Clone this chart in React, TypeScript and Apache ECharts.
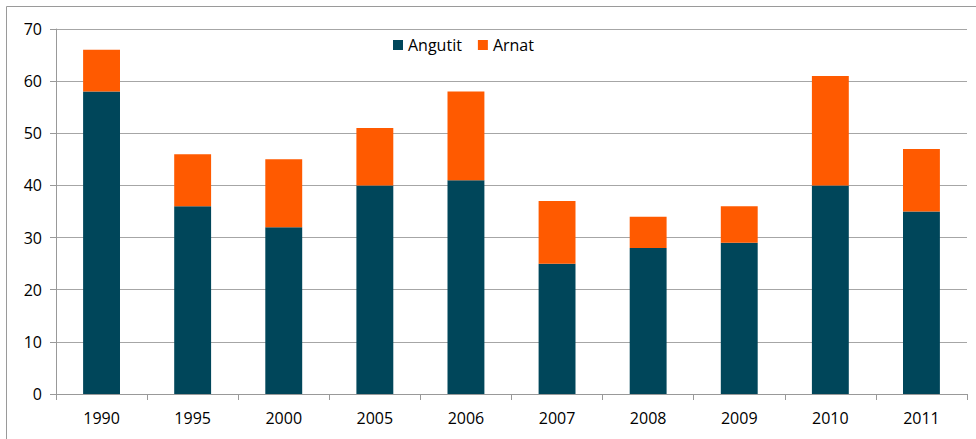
import React, { useEffect, useRef } from "react";
import * as echarts from "echarts";

const categories = ["1990", "1995", "2000", "2005", "2006", "2007", "2008", "2009", "2010", "2011"];
const angutit = [58, 36, 32, 40, 41, 25, 28, 29, 40, 35];
const arnat = [8, 10, 13, 11, 17, 12, 6, 7, 21, 12];
const seriesNames = ["Angutit", "Arnat"];
const colors = ["#00465A", "#FF5A00"];

export default function App() {
  const ref = useRef<HTMLDivElement>(null);
  useEffect(() => {
    document.body.style.margin = "0";
    const chart = echarts.init(ref.current!, null, { renderer: "svg" });
    const font = "'Open Sans', 'Noto Sans', sans-serif";
    chart.setOption({
      animation: false,
      textStyle: { fontFamily: font },
      graphic: [
        {
          type: "rect",
          shape: { x: 6.5, y: 6.5, width: 1000, height: 1000 },
          style: { fill: "none", stroke: "#9a9a9a", lineWidth: 1 },
          silent: true,
        },
      ],
      legend: {
        left: 393,
        top: 37,
        padding: 0,
        itemWidth: 10,
        itemHeight: 10,
        itemGap: 16,
        icon: "rect",
        textStyle: { fontSize: 16, color: "#000", fontFamily: font },
        data: seriesNames,
      },
      grid: { left: 56, right: 9, top: 29, bottom: 45 },
      xAxis: {
        type: "category",
        data: categories,
        axisLine: { lineStyle: { color: "#999", width: 1 } },
        axisTick: { show: true, length: 6, lineStyle: { color: "#999" } },
        axisLabel: { color: "#000", fontSize: 16, margin: 16, fontFamily: font },
      },
      yAxis: {
        type: "value",
        min: 0,
        max: 70,
        interval: 10,
        axisLine: { show: true, lineStyle: { color: "#999", width: 1 } },
        axisTick: { show: true, length: 6, lineStyle: { color: "#999" } },
        axisLabel: { color: "#000", fontSize: 16, margin: 14, fontFamily: font },
        splitLine: { show: true, lineStyle: { color: "#a6a6a6", width: 1 } },
      },
      series: [
        {
          name: seriesNames[0],
          type: "bar",
          stack: "total",
          data: angutit,
          barWidth: "40.5%",
          itemStyle: { color: colors[0] },
        },
        {
          name: seriesNames[1],
          type: "bar",
          stack: "total",
          data: arnat,
          barWidth: "40.5%",
          itemStyle: { color: colors[1] },
        },
      ],
    });
    return () => chart.dispose();
  }, []);
  return <div ref={ref} style={{ width: 976, height: 439 }} />;
}
